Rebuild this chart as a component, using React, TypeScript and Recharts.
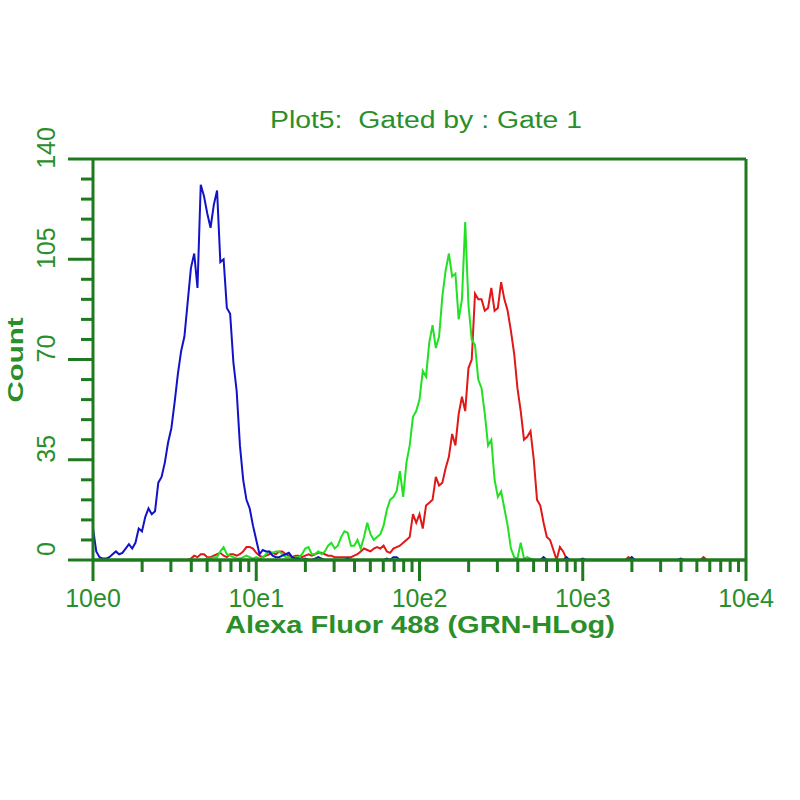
import { LineChart, Line, XAxis, YAxis, Customized, ReferenceLine } from "recharts"

// flow histogram, 50 channels per decade, 4 decades (ch 0..200)
const blueCounts = [
  11, 3, 1, 0.5, 0.5, 1, 2, 3, 2, 2.5,
  4, 5.5, 4, 6, 11, 10, 15, 18, 16, 17,
  27, 29, 34, 41, 46, 55, 65, 73, 78, 90,
  102, 107, 95, 131, 127, 121, 116, 124, 129, 104,
  105, 88, 86, 69, 59, 40, 28, 21, 18, 12,
  7, 2, 3.5, 3, 3, 1.5, 1, 1, 1.5, 2,
  2.5, 1, 0.5, 0.5, 0, 0.5, 0, 0, 0.5, 1,
  0.5, 0, 0, 0, 0, 0, 0, 0, 0.5, 0,
  0, 0, 0, 0, 0, 0, 0, 0, 0, 0,
  0.5, 0, 1, 1, 0, 0, 0, 0, 0, 0,
  0, 0, 0, 0, 0, 0, 0, 0, 0, 0,
  0, 0, 0, 0, 0, 0, 0, 0, 0, 0,
  0, 0, 0, 0, 0, 0, 0, 0, 0, 0,
  0, 0, 0, 0, 0, 0, 0, 0, 1, 0,
  0, 0, 0, 0, 0, 1, 0, 0, 0, 0,
  0.5, 0, 0, 0, 0, 0, 0, 0, 0, 0,
  0, 0, 0, 0, 0, 1, 0, 0, 0, 0,
  0, 0, 0, 0, 0, 0, 0, 0, 0, 0,
  0.5, 0, 0, 0, 0, 0, 0, 0, 0, 0,
  0, 0, 0, 0, 0, 0, 0, 0, 0, 0,
  0,
]

const greenCounts = [
  0, 0, 0, 0, 0, 0, 0, 0, 0, 0,
  0, 0, 0, 0, 0, 0, 0, 0, 0, 0,
  0, 0, 0, 0, 0, 0, 0, 0, 0, 0,
  0, 0, 0, 0, 0, 0.5, 0.5, 1, 1, 3,
  4.5, 2, 1.5, 1, 0.5, 0.5, 1, 1.5, 1, 0.5,
  1, 0.5, 1, 2, 3, 2.5, 3, 3, 2, 1,
  1, 0.5, 1, 1, 2, 4, 4.5, 2, 2, 3,
  2, 3, 5, 6, 4, 5, 8, 10, 9.5, 5,
  5, 7, 4, 8, 13, 9, 7, 8, 9, 12,
  17.5, 21, 22, 24, 31, 22, 34, 40, 50, 52,
  56, 66, 64, 76, 82, 74, 78, 92, 101, 107,
  99, 100, 84, 91, 118, 89, 77, 75, 63, 60,
  51, 40, 42, 28, 22, 24, 18, 12, 4, 1,
  0.5, 6, 0.5, 1, 0.5, 0, 0, 0, 0, 0,
  0, 0, 0, 0, 0, 0, 0, 0, 0, 0,
  0, 0, 0, 0, 0, 0, 0, 0, 0, 0,
  0, 0, 0, 0, 0, 0, 0, 0, 0, 0,
  0, 0, 0, 0, 0, 0, 0, 0, 0, 0,
  0, 0, 0, 0, 0, 0, 0, 0, 0, 0,
  0, 0, 0, 0, 0, 0, 0, 0, 0, 0,
  0,
]

const redCounts = [
  0, 0, 0, 0, 0, 0, 0, 0, 0, 0,
  0, 0, 0, 0, 0, 0, 0, 0, 0, 0,
  0, 0, 0, 0, 0, 0, 0, 0, 0, 0,
  0.5, 1.5, 1, 2, 2, 1, 1, 1.5, 2, 2.5,
  1.5, 1, 2, 2, 1.5, 2, 3, 4.5, 4.5, 4,
  2.5, 1.5, 1, 1.5, 2, 2.5, 2, 3, 3, 2,
  1.5, 1, 1.5, 1.5, 1, 1.5, 2, 1.5, 2, 2.5,
  2.5, 2, 1.5, 1.5, 1, 1, 1, 1, 1, 1,
  1.5, 2, 3, 4, 3.5, 3, 4, 4.5, 4, 5,
  3, 2.5, 4, 4.5, 5, 6, 7, 8, 16, 13,
  16, 11, 19, 20, 21, 29, 26, 27, 32, 36,
  44, 40, 51, 57, 52, 67, 70, 93, 91, 91,
  87, 88, 95, 87, 88, 97, 91, 87, 80, 72,
  60, 52, 42, 43, 45, 35, 21, 19, 13, 8,
  7, 3.5, 0, 4.5, 3, 0.5, 0, 0, 0, 0,
  0, 0, 0, 0, 0, 0, 0, 0, 0, 0,
  0, 0, 0, 0, 1, 0, 0, 0, 0, 0,
  0, 0, 0, 0, 0, 0, 0, 0, 0, 0,
  0, 0, 0, 0, 0, 0, 0, 1, 0, 0,
  0, 0, 0, 0, 0, 0, 0, 0, 0, 0,
  0,
]

const decadeLabels = ["10e0", "10e1", "10e2", "10e3", "10e4"]
const decadeChannels = [0, 50, 100, 150, 200]
const countTicks = [0, 7, 14, 21, 28, 35, 42, 49, 56, 63, 70, 77, 84, 91, 98, 105, 112, 119, 126, 133, 140]

const AXIS = "#1f7a1f"
const TEXT = "#2a8f2a"
const FONT = "'Liberation Sans', Arial, sans-serif"

const rows = blueCounts.map((b, i) => ({
  ch: i,
  blue: b,
  green: greenCounts[i],
  red: redCounts[i],
}))

// log minor ticks 2..9 inside each decade
const xTicks: number[] = []
for (let d = 0; d < 4; d++) {
  xTicks.push(d * 50)
  for (let k = 2; k <= 9; k++) xTicks.push(d * 50 + 50 * Math.log10(k))
}
xTicks.push(200)

function XTick({ x, y, payload }: any) {
  const idx = decadeChannels.indexOf(payload.value)
  const major = idx >= 0
  return (
    <g>
      <line x1={x} x2={x} y1={y} y2={y + (major ? 21 : 12)} stroke={AXIS} strokeWidth={3} />
      {major && (
        <text x={x} y={y + 47} textAnchor="middle" fontSize={25} fill={TEXT} fontFamily={FONT}>
          {decadeLabels[idx]}
        </text>
      )}
    </g>
  )
}

function YTick({ x, y, payload }: any) {
  const v = payload.value
  const major = v % 35 === 0
  const tx = x - 38
  const ty = y - 11
  return (
    <g>
      <line x1={x - (major ? 25 : 12)} x2={x} y1={y} y2={y} stroke={AXIS} strokeWidth={3} />
      {major && (
        <text
          x={tx}
          y={ty}
          transform={`rotate(-90 ${tx} ${ty})`}
          textAnchor="middle"
          fontSize={25}
          fill={TEXT}
          fontFamily={FONT}
        >
          {v}
        </text>
      )}
    </g>
  )
}

function Titles() {
  return (
    <g fontFamily={FONT} fill={TEXT}>
      <text x={426} y={128} textAnchor="middle" fontSize={23} textLength={312} lengthAdjust="spacingAndGlyphs" style={{ whiteSpace: "pre" }}>
        Plot5:  Gated by : Gate 1
      </text>
      <text x={420} y={633} textAnchor="middle" fontSize={23} fontWeight="bold" textLength={390} lengthAdjust="spacingAndGlyphs">
        Alexa Fluor 488 (GRN-HLog)
      </text>
      <text
        x={23}
        y={360}
        transform="rotate(-90 23 360)"
        textAnchor="middle"
        fontSize={22}
        fontWeight="bold"
        textLength={85}
        lengthAdjust="spacingAndGlyphs"
      >
        Count
      </text>
    </g>
  )
}

export default function App() {
  return (
    <div style={{ width: 800, height: 800, background: "#fff" }}>
      <style>{`body{margin:0}`}</style>
      <LineChart width={800} height={800} data={rows} margin={{ top: 149, right: 44, bottom: 180, left: 13 }}>
        <XAxis
          dataKey="ch"
          type="number"
          domain={[0, 200]}
          ticks={xTicks}
          interval={0}
          height={60}
          tickSize={0}
          tickMargin={0}
          tick={<XTick />}
          axisLine={{ stroke: AXIS, strokeWidth: 3 }}
          tickLine={false}
        />
        <XAxis
          xAxisId="top"
          orientation="top"
          type="number"
          domain={[0, 200]}
          height={10}
          tick={false}
          axisLine={{ stroke: AXIS, strokeWidth: 3 }}
          tickLine={false}
        />
        <YAxis
          type="number"
          domain={[0, 140]}
          ticks={countTicks}
          interval={0}
          width={80}
          tickSize={0}
          tickMargin={0}
          tick={<YTick />}
          axisLine={{ stroke: AXIS, strokeWidth: 3 }}
          tickLine={false}
        />
        <YAxis
          yAxisId="right"
          orientation="right"
          type="number"
          domain={[0, 140]}
          width={10}
          tick={false}
          axisLine={{ stroke: AXIS, strokeWidth: 3 }}
          tickLine={false}
        />
        <Line dataKey="red" type="linear" stroke="#e01818" strokeWidth={2} dot={false} isAnimationActive={false} />
        <Line dataKey="green" type="linear" stroke="#22e022" strokeWidth={2} dot={false} isAnimationActive={false} />
        <Line dataKey="blue" type="linear" stroke="#1212c8" strokeWidth={2} dot={false} isAnimationActive={false} />
        <ReferenceLine y={0} stroke={AXIS} strokeWidth={3} zIndex={1000} />
        <Customized component={<Titles />} />
      </LineChart>
    </div>
  )
}
